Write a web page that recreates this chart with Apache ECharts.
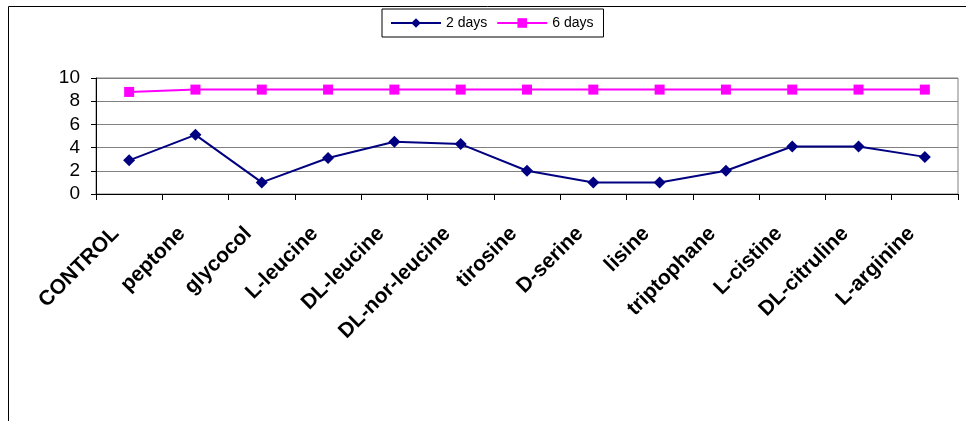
<!DOCTYPE html>
<html>
<head>
<meta charset="utf-8">
<script src="https://cdn.jsdelivr.net/npm/echarts@6/dist/echarts.min.js"></script>
<style>
  html, body { margin: 0; padding: 0; background: #fff; }
  #chart { width: 966px; height: 421px; }
</style>
</head>
<body>
<div id="chart"></div>
<script>
// Amino acid treatments along the x axis
const categories = ['CONTROL', 'peptone', 'glycocol', 'L-leucine', 'DL-leucine', 'DL-nor-leucine',
  'tirosine', 'D-serine', 'lisine', 'triptophane', 'L-cistine', 'DL-citruline', 'L-arginine'];

// Readings after 2 and 6 days
const days2 = [2.9, 5.1, 1.0, 3.1, 4.5, 4.3, 2.0, 1.0, 1.0, 2.0, 4.1, 4.1, 3.2];
const days6 = [8.8, 9.0, 9.0, 9.0, 9.0, 9.0, 9.0, 9.0, 9.0, 9.0, 9.0, 9.0, 9.0];

// Value axis ticks
const yTicks = [0, 2, 4, 6, 8, 10];

const chart = echarts.init(document.getElementById('chart'), null, { renderer: 'canvas' });

chart.setOption({
  animation: false,
  backgroundColor: '#fff',
  graphic: [{
    type: 'rect',
    shape: { x: 8.5, y: 6.5, width: 1000, height: 600 },
    style: { fill: 'none', stroke: '#000', lineWidth: 1 },
    silent: true
  }],
  legend: {
    left: 382,
    top: 9,
    padding: [7, 10, 7, 8],
    borderColor: '#000',
    borderWidth: 1,
    itemWidth: 50,
    itemHeight: 12,
    itemGap: 9,
    textStyle: { fontFamily: 'Liberation Sans, Arial', fontSize: 14, color: '#000' },
    data: ['2 days', '6 days']
  },
  grid: {
    left: 96, right: 8, top: 78, bottom: 227,
    show: true, borderColor: '#808080', borderWidth: 1
  },
  xAxis: {
    type: 'category',
    data: categories,
    boundaryGap: true,
    axisLine: { lineStyle: { color: '#000', width: 1 } },
    axisTick: { show: true, length: 6, lineStyle: { color: '#000' } },
    axisLabel: {
      interval: 0,
      rotate: 45,
      margin: 23,
      padding: [0, 19, 0, 0],
      fontFamily: 'Liberation Sans, Arial',
      fontWeight: 'bold',
      fontSize: 21,
      color: '#000'
    },
    splitLine: { show: false }
  },
  yAxis: {
    type: 'value',
    min: yTicks[0],
    max: yTicks[yTicks.length - 1],
    interval: 2,
    axisLine: { show: true, lineStyle: { color: '#000', width: 1 } },
    axisTick: { show: true, length: 5, lineStyle: { color: '#000' } },
    axisLabel: {
      margin: 16,
      fontFamily: 'Liberation Sans, Arial',
      fontSize: 19,
      color: '#000'
    },
    splitLine: { show: true, lineStyle: { color: '#808080', width: 1 } }
  },
  series: [
    {
      name: '2 days',
      type: 'line',
      data: days2,
      symbol: 'diamond',
      symbolSize: 12,
      lineStyle: { color: '#000080', width: 2 },
      itemStyle: { color: '#000080' }
    },
    {
      name: '6 days',
      type: 'line',
      data: days6,
      symbol: 'rect',
      symbolSize: 10,
      lineStyle: { color: '#FF00FF', width: 2 },
      itemStyle: { color: '#FF00FF' }
    }
  ]
});
</script>
</body>
</html>
